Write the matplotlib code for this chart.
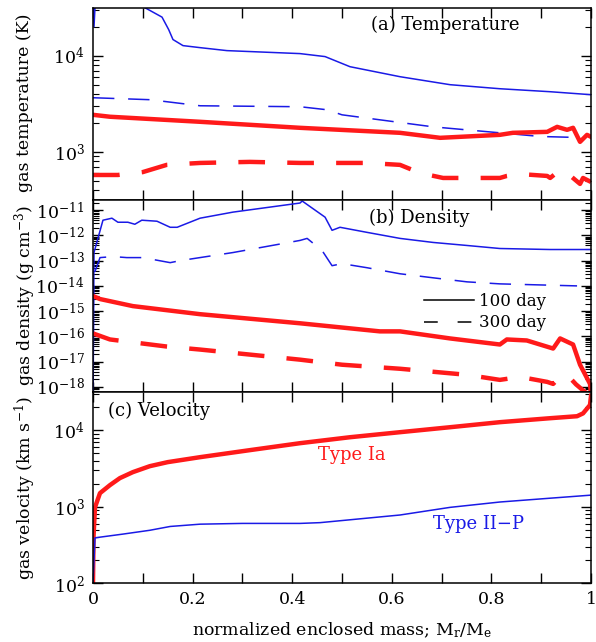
import numpy as np
import matplotlib
matplotlib.use("Agg")
import matplotlib.pyplot as plt
from matplotlib.ticker import MultipleLocator, NullFormatter, FixedLocator, FixedFormatter
from matplotlib.lines import Line2D

plt.rcParams['font.family'] = ['DejaVu Serif']
plt.rcParams['mathtext.fontset'] = 'dejavuserif'

BLUE = '#1a1ae6'
RED = '#ff1a1a'

# ---------------- data (log10 values) ----------------
# (a) temperature
t100_II_x = [0.0, 0.002, 0.006, 0.08, 0.1, 0.1386, 0.152, 0.1606, 0.1807, 0.2149, 0.269, 0.4157, 0.466, 0.516, 0.6165, 0.717, 0.817, 0.918, 1.0]
t100_II_y = [4.7, 4.30, 4.7, 4.7, 4.51, 4.40, 4.27, 4.167, 4.104, 4.083, 4.052, 4.021, 3.99, 3.885, 3.781, 3.698, 3.656, 3.625, 3.594]
t300_II_x = [0.0, 0.115, 0.215, 0.416, 0.47, 0.50, 0.683, 0.817, 0.898, 0.97]
t300_II_y = [3.5625, 3.542, 3.479, 3.469, 3.4375, 3.385, 3.26, 3.198, 3.16, 3.15]
t100_Ia_x = [0.0, 0.034, 0.215, 0.4157, 0.6165, 0.697, 0.817, 0.843, 0.912, 0.932, 0.952, 0.964, 0.978, 0.992, 1.0]
t100_Ia_y = [3.385, 3.365, 3.3125, 3.25, 3.198, 3.146, 3.177, 3.198, 3.208, 3.26, 3.229, 3.25, 3.104, 3.177, 3.156]
t300_Ia_x = [0.0, 0.05, 0.1, 0.148, 0.215, 0.315, 0.4157, 0.55, 0.6165, 0.657, 0.703, 0.757, 0.817, 0.831, 0.857, 0.912, 0.918, 0.938, 0.952, 0.978, 0.984, 1.0]
t300_Ia_y = [2.76, 2.76, 2.79, 2.865, 2.885, 2.896, 2.885, 2.885, 2.865, 2.78, 2.729, 2.729, 2.729, 2.75, 2.77, 2.75, 2.729, 2.8125, 2.78, 2.667, 2.729, 2.6875]

# (b) density
d100_II_x = [0.0, 0.002, 0.02, 0.038, 0.05, 0.07, 0.084, 0.098, 0.1285, 0.155, 0.169, 0.215, 0.281, 0.4157, 0.42, 0.466, 0.48, 0.496, 0.55, 0.6165, 0.683, 0.751, 0.817, 0.918, 1.0]
d100_II_y = [-19.0, -12.68, -11.4, -11.32, -11.48, -11.48, -11.56, -11.4, -11.44, -11.68, -11.68, -11.32, -11.08, -10.72, -10.64, -11.28, -11.8, -11.68, -11.88, -12.12, -12.28, -12.4, -12.52, -12.56, -12.56]
d300_II_x = [0.0, 0.001, 0.014, 0.04, 0.068, 0.1, 0.155, 0.175, 0.281, 0.4157, 0.43, 0.46, 0.48, 0.50, 0.55, 0.6165, 0.683, 0.751, 0.817, 0.972]
d300_II_y = [-19.0, -13.6, -12.88, -12.84, -12.88, -12.88, -13.08, -13.0, -12.68, -12.2, -12.12, -12.6, -13.2, -13.12, -13.28, -13.52, -13.68, -13.84, -13.92, -14.0]
d100_Ia_x = [0.0, 0.014, 0.08, 0.215, 0.4157, 0.576, 0.6165, 0.717, 0.817, 0.831, 0.871, 0.924, 0.938, 0.964, 0.978, 0.998, 1.0]
d100_Ia_y = [-14.4, -14.52, -14.8, -15.12, -15.48, -15.8, -15.8, -16.08, -16.32, -16.12, -16.16, -16.48, -16.08, -16.32, -17.12, -17.88, -18.3]
d300_Ia_x = [0.0, 0.034, 0.148, 0.215, 0.4157, 0.50, 0.6165, 0.751, 0.817, 0.831, 0.857, 0.912, 0.924, 0.938, 0.952, 0.97, 1.0]
d300_Ia_y = [-15.88, -16.12, -16.4, -16.52, -16.92, -17.12, -17.28, -17.52, -17.72, -17.68, -17.6, -17.8, -17.88, -17.6, -17.52, -17.9, -18.4]

# (c) velocity
vIa_x = [0.0, 0.001, 0.004, 0.014, 0.034, 0.054, 0.08, 0.114, 0.15, 0.215, 0.315, 0.4157, 0.516, 0.6165, 0.717, 0.817, 0.918, 0.972, 0.984, 0.998, 1.0]
vIa_y = [2.0, 2.6, 2.99, 3.176, 3.281, 3.373, 3.451, 3.529, 3.582, 3.647, 3.739, 3.83, 3.908, 3.974, 4.039, 4.105, 4.157, 4.183, 4.22, 4.33, 4.45]
vII_x = [0.0, 0.004, 0.014, 0.06, 0.114, 0.155, 0.215, 0.30, 0.4157, 0.456, 0.6165, 0.717, 0.817, 0.918, 1.0]
vII_y = [2.0, 2.59, 2.60, 2.64, 2.69, 2.74, 2.77, 2.78, 2.78, 2.79, 2.89, 2.99, 3.06, 3.11, 3.15]

# axis decades labelled
a_decades = [3, 4]
b_decades = [-11, -12, -13, -14, -15, -16, -17, -18]
c_decades = [2, 3, 4]
x_ticklabels = ['0', '0.2', '0.4', '0.6', '0.8', '1']

W, H = 596, 642
fig = plt.figure(figsize=(W / 100, H / 100), dpi=100)
left = 93 / W
width = (591 - 93) / W

def ax_at(top_px, bot_px):
    return fig.add_axes([left, 1 - bot_px / H, width, (bot_px - top_px) / H])

axa = ax_at(7.5, 200)
axb = ax_at(200, 392)
axc = ax_at(392, 583)

def p(v):
    return 10 ** np.asarray(v)

lw_b, lw_r = 1.1, 3.2
dash_b = (0, (14, 9))
dash_r = (0, (6, 5))

axa.plot(t100_II_x, p(t100_II_y), color=BLUE, lw=lw_b)
axa.plot(t300_II_x, p(t300_II_y), color=BLUE, lw=lw_b, ls=dash_b)
axa.plot(t100_Ia_x, p(t100_Ia_y), color=RED, lw=lw_r)
axa.plot(t300_Ia_x, p(t300_Ia_y), color=RED, lw=lw_r, ls=dash_r)

axb.plot(d100_II_x, p(d100_II_y), color=BLUE, lw=lw_b)
axb.plot(d300_II_x, p(d300_II_y), color=BLUE, lw=lw_b, ls=dash_b)
axb.plot(d100_Ia_x, p(d100_Ia_y), color=RED, lw=lw_r)
axb.plot(d300_Ia_x, p(d300_Ia_y), color=RED, lw=lw_r, ls=dash_r)

axc.plot(vIa_x, p(vIa_y), color=RED, lw=lw_r)
axc.plot(vII_x, p(vII_y), color=BLUE, lw=lw_b)

def setup(ax, lo, hi, decades):
    ax.set_yscale('log')
    ax.set_xlim(0, 1)
    ax.set_ylim(10 ** lo, 10 ** hi)
    majors = [10.0 ** d for d in decades]
    ax.yaxis.set_major_locator(FixedLocator(majors))
    ax.yaxis.set_major_formatter(FixedFormatter([r'$10^{%d}$' % d for d in decades]))
    minors = []
    for d in range(int(np.floor(lo)) - 1, int(np.ceil(hi)) + 1):
        for s in range(2, 10):
            v = s * 10.0 ** d
            if 10 ** lo < v < 10 ** hi:
                minors.append(v)
    ax.yaxis.set_minor_locator(FixedLocator(minors))
    ax.yaxis.set_minor_formatter(NullFormatter())
    ax.xaxis.set_major_locator(MultipleLocator(0.2))
    ax.xaxis.set_minor_locator(MultipleLocator(0.1))
    ax.tick_params(which='both', direction='in', top=True, right=True, labelsize=12.5, pad=6)
    ax.tick_params(which='major', length=7, width=1)
    ax.tick_params(which='minor', length=4, width=0.8)
    ax.tick_params(axis='x', which='minor', length=7, width=1)
    for s in ax.spines.values():
        s.set_linewidth(1.1)

setup(axa, 2.5, 4.5, a_decades)
setup(axb, -18.2, -10.6, b_decades)
setup(axc, 2.0, 4.5, c_decades)

axa.tick_params(labelbottom=False)
axb.tick_params(labelbottom=False)
axc.set_xticks([0, 0.2, 0.4, 0.6, 0.8, 1.0])
axc.set_xticklabels(x_ticklabels)

ylab_x = 25 / W
fig.text(ylab_x, 1 - 103 / H, 'gas temperature (K)', rotation=90, ha='center', va='center', fontsize=12.5)
fig.text(ylab_x, 1 - 296 / H, r'gas density (g cm$^{-3}$)', rotation=90, ha='center', va='center', fontsize=12.5)
fig.text(ylab_x, 1 - 488 / H, r'gas velocity (km s$^{-1}$)', rotation=90, ha='center', va='center', fontsize=12.5)
fig.text(342 / W, 1 - 630 / H, r'normalized enclosed mass; M$_{\rm r}$/M$_{\rm e}$', ha='center', va='center', fontsize=12.5)

axa.text(0.707, 0.91, '(a) Temperature', transform=axa.transAxes, ha='center', va='center', fontsize=13)
axb.text(0.655, 0.905, '(b) Density', transform=axb.transAxes, ha='center', va='center', fontsize=13)
axc.text(0.03, 0.9, '(c) Velocity', transform=axc.transAxes, ha='left', va='center', fontsize=13)
axc.text(0.52, 0.67, 'Type Ia', transform=axc.transAxes, ha='center', va='center', fontsize=13, color=RED)
axc.text(0.775, 0.31, 'Type II\u2212P', transform=axc.transAxes, ha='center', va='center', fontsize=13, color=BLUE)

handles = [Line2D([], [], color='black', lw=1.1), Line2D([], [], color='black', lw=1.1, ls=(0, (9, 13)))]
axb.legend(handles, ['100 day', '300 day'], loc='center left', bbox_to_anchor=(0.648, 0.415), frameon=False,
           fontsize=12, handlelength=3.0, handletextpad=0.3, labelspacing=0.25, borderpad=0)

fig.savefig('out.png', dpi=100)
